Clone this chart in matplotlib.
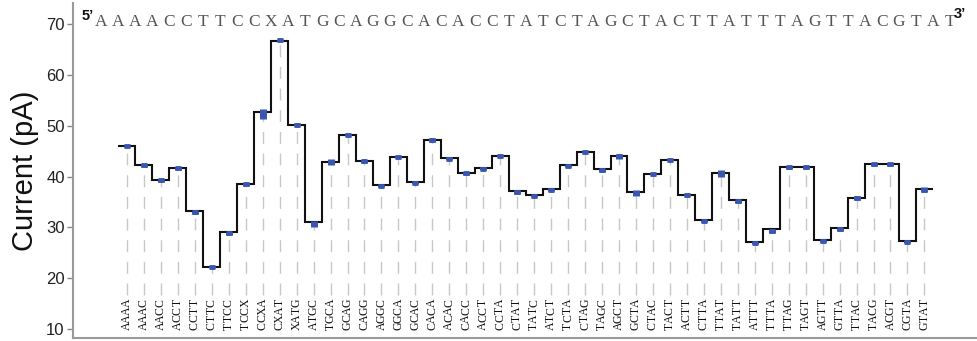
import matplotlib
matplotlib.use("Agg")
import matplotlib.pyplot as plt
import numpy as np

sequence = "AAAACCTTCCXATGCAGGCACACCTATCTAGCTACTTATTTAGTTACGTAT"
kmers = ["AAAA", "AAAC", "AACC", "ACCT", "CCTT", "CTTC", "TTCC", "TCCX",
         "CCXA", "CXAT", "XATG", "ATGC", "TGCA", "GCAG", "CAGG", "AGGC",
         "GGCA", "GCAC", "CACA", "ACAC", "CACC", "ACCT", "CCTA", "CTAT",
         "TATC", "ATCT", "TCTA", "CTAG", "TAGC", "AGCT", "GCTA", "CTAC",
         "TACT", "ACTT", "CTTA", "TTAT", "TATT", "ATTT", "TTTA", "TTAG",
         "TAGT", "AGTT", "GTTA", "TTAC", "TACG", "ACGT", "CGTA", "GTAT"]

# step levels (pA)
levels = [46.0, 42.3, 39.4, 41.7, 33.2, 22.3, 29.0, 38.6,
          52.7, 66.7, 50.2, 31.0, 42.9, 48.2, 43.1, 38.3,
          43.9, 38.9, 47.2, 43.6, 40.8, 41.6, 44.1, 37.2,
          36.3, 37.6, 42.2, 44.9, 41.4, 44.1, 37.0, 40.5,
          43.3, 36.4, 31.5, 40.8, 35.3, 27.2, 29.6, 41.8,
          41.8, 27.6, 29.8, 35.7, 42.5, 42.5, 27.3, 37.6]

# measured means and spread
means = [46.0, 42.2, 39.3, 41.6, 33.0, 22.2, 28.8, 38.5,
         52.3, 66.8, 50.2, 30.6, 42.9, 48.1, 43.0, 38.2,
         43.8, 38.8, 47.2, 43.5, 40.7, 41.5, 44.0, 37.0,
         36.2, 37.4, 42.1, 44.9, 41.2, 44.0, 36.8, 40.5,
         43.3, 36.3, 31.3, 40.6, 35.1, 27.0, 29.3, 41.8,
         41.8, 27.4, 29.6, 35.7, 42.4, 42.4, 27.2, 37.4]
errs = [0.1, 0.3, 0.3, 0.3, 0.3, 0.2, 0.3, 0.3,
        1.0, 0.2, 0.3, 0.6, 0.6, 0.2, 0.3, 0.2,
        0.2, 0.2, 0.3, 0.3, 0.3, 0.3, 0.2, 0.4,
        0.2, 0.3, 0.2, 0.2, 0.3, 0.5, 0.6, 0.2,
        0.2, 0.2, 0.2, 0.6, 0.3, 0.2, 0.4, 0.3,
        0.3, 0.2, 0.3, 0.4, 0.3, 0.3, 0.2, 0.5]

x = np.arange(len(kmers))
blue = "#3a56b0"
serif = "Liberation Serif"

fig = plt.figure(figsize=(9.77, 3.41), dpi=100)
ax = fig.add_axes([73 / 977, 3 / 341, 904 / 977, 335 / 341])

# dashed guide lines from label tops up to the level
ax.vlines(x, 16.7, levels, colors="#c8c8c8", lw=1.0, linestyles=(0, (8.6, 7.0)), zorder=1)

ax.stairs(levels, np.arange(len(kmers) + 1) - 0.5, baseline=None,
          color="#111111", lw=1.5, zorder=2)

ax.errorbar(x, means, yerr=errs, fmt="_", color=blue, ms=5, mew=3.5,
            ecolor=blue, elinewidth=5, capsize=0, zorder=3)

# k-mer labels, one letter per fixed cell so they read like a typewriter font
cell = 7.75 * 0.72
for i, k in enumerate(kmers):
    for n, ch in enumerate(k):
        ax.annotate(ch, xy=(i, 0), xycoords=ax.get_xaxis_transform(),
                    xytext=(0, 8 * 0.72 + cell * (n + 0.5)), textcoords="offset points",
                    rotation=90, ha="center", va="center",
                    family=serif, fontsize=8.5, color="#111111")

# sequence on top
for j, ch in enumerate(sequence):
    ax.text(j - 1.5, 69.65, ch, ha="center", va="baseline",
            family=serif, fontsize=12.5, color="#555555")
ax.text(-1.95, 70.9, "5\u2019", ha="right", va="baseline",
        family="Liberation Sans", fontweight="bold", fontsize=10.5, color="#111111")
ax.text(48.75, 71.3, "3\u2019", ha="left", va="baseline",
        family="Liberation Sans", fontweight="bold", fontsize=10.5, color="#111111")

ax.set_xlim(-3.18, 50.1)
ax.set_ylim(8.23, 74.17)
ax.set_yticks([10, 20, 30, 40, 50, 60, 70])
ax.set_xticks([])
ax.tick_params(axis="y", direction="out", length=4, width=1, color="#888888",
               labelsize=12, labelcolor="#222222", pad=2)
for lab in ax.get_yticklabels():
    lab.set_family("Liberation Sans")

for side in ["top", "right"]:
    ax.spines[side].set_visible(False)
for side in ["left", "bottom"]:
    ax.spines[side].set_color("#999999")
    ax.spines[side].set_linewidth(1.5)

ax.set_ylabel("Current (pA)", family="Liberation Sans", fontsize=21, color="#111111")
ax.yaxis.set_label_coords(-0.038, 0.5)

fig.savefig("out.png", dpi=100)
